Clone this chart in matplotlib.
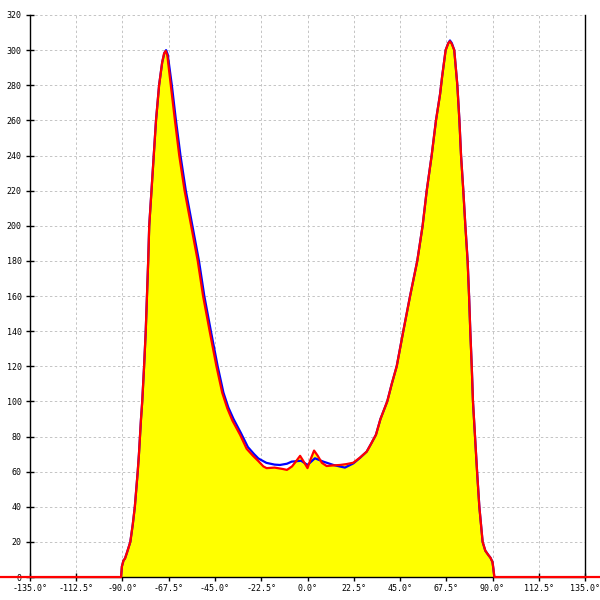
import numpy as np
import matplotlib
matplotlib.use("Agg")
import matplotlib.pyplot as plt

# Courbe rouge (angle en degrés, intensité)
red_angle = [-180, -90.7, -90.3, -89.5, -88.8, -87.8, -86.2, -85.0, -84.0, -83.3,
             -82.6, -82.0, -81.5, -81.0, -80.4, -79.5, -78.7, -78.1, -77.5, -77.0,
             -75.9, -74.8, -73.7, -72.2, -70.7, -69.8, -69.0, -68.2, -66.5, -64.5,
             -62.4, -59.8, -56.6, -53.4, -50.8, -47.6, -44.3, -41.5, -39.0, -36.5,
             -32.8, -29.6, -26.5, -23.9, -21.5, -19.9, -16.0, -12.0, -10.0, -7.5,
             -5.5, -3.6, -2.0, 0.0, 1.5, 3.2, 5.0, 7.0, 9.3, 12.0,
             15.8, 19.0, 22.3, 25.5, 28.8, 31.0, 33.3, 35.5, 38.8, 41.0,
             43.4, 46.6, 49.9, 53.4, 56.0, 58.0, 60.4, 62.5, 64.5, 65.5,
             67.2, 68.5, 69.3, 70.2, 71.4, 72.9, 73.9, 74.7, 75.8, 76.8,
             77.9, 78.6, 79.2, 79.9, 80.5, 81.5, 82.5, 83.6, 84.4, 85.2,
             86.5, 88.0, 89.0, 90.0, 90.4, 90.9, 180]
red_value = [0, 0, 6, 9.5, 10.5, 14, 20, 30, 40, 50,
             60, 70, 80, 90, 100, 120, 140, 160, 180, 200,
             220, 240, 260, 280, 293, 298, 299.5, 297, 280, 260,
             240, 220, 200, 180, 160, 140, 120, 105, 96, 89,
             81, 73, 69, 66, 63, 62, 62.3, 61.5, 61, 63,
             66, 69, 66, 62, 67, 72, 69, 65, 63.2, 63.5,
             63.8, 64.3, 65.1, 68, 71.4, 76, 81, 90, 100, 110,
             120, 140, 160, 180, 200, 220, 240, 260, 275, 285,
             300, 304, 305, 303.5, 300, 280, 260, 240, 220, 200,
             180, 160, 140, 120, 100, 80, 60, 40, 30, 20,
             15, 12.5, 11, 8.5, 5, 0, 0]

# Courbe bleue, quasi superposée
blue_angle = [-90.7, -90.3, -89.5, -88.8, -87.8, -86.2, -85.0, -84.0, -83.3,
              -82.6, -82.0, -81.5, -81.0, -80.4, -79.5, -78.7, -78.1, -77.5, -77.0,
              -75.9, -74.8, -73.7, -72.2, -70.7, -69.6, -68.8, -68.0, -66.0, -64.0,
              -61.8, -59.2, -56.0, -52.8, -50.2, -47.0, -43.7, -40.9, -38.5, -36.0,
              -32.4, -29.0, -26.0, -23.9, -20.0, -16.0, -13.4, -10.0, -7.7, -3.1,
              0.0, 3.6, 7.7, 12.6, 15.5, 18.2, 22.3, 25.5, 28.8, 31.0,
              33.3, 35.5, 38.8, 41.0, 43.4, 46.6, 49.9, 53.4, 56.0, 58.0,
              60.4, 62.5, 64.5, 65.5, 67.2, 68.5, 69.3, 70.2, 71.4, 72.9,
              73.9, 74.7, 75.8, 76.8, 77.9, 78.6, 79.2, 79.9, 80.5, 81.5,
              82.5, 83.6, 84.4, 85.2, 86.5, 88.0, 89.0, 90.0, 90.4, 90.9]
blue_value = [0, 6, 9.5, 10.5, 14, 20, 30, 40, 50,
              60, 70, 80, 90, 100, 120, 140, 160, 180, 200,
              220, 240, 260, 280, 293, 298.5, 300, 297.5, 280, 260,
              240, 220, 200, 180, 160, 140, 120, 105, 96.5, 90,
              82, 74, 70, 67.5, 65, 64, 63.8, 64.5, 65.7, 66.2,
              63.8, 67.6, 65.7, 63.8, 63, 62.3, 64.7, 67.8, 71.4, 76,
              81, 90, 100, 110, 120, 140, 160, 180, 200, 220,
              240, 260, 275, 285, 300, 304, 305.5, 304, 300, 280,
              260, 240, 220, 200, 180, 160, 140, 120, 100, 80,
              60, 40, 30, 20, 15, 12.5, 11, 8.5, 5, 0]

x_ticks = np.arange(-135, 135.1, 22.5)
y_ticks = np.arange(0, 321, 20)

fig = plt.figure(figsize=(6, 6), dpi=100)
ax = fig.add_axes([0.05, 0.0383, 0.925, 0.9367])

ax.fill_between(red_angle, red_value, 0, color='#ffff00', lw=0, zorder=2)
ax.plot(blue_angle, blue_value, color='#0000ff', lw=1.6, zorder=3)
ax.plot(red_angle, red_value, color='#ff0000', lw=1.6, zorder=4, clip_on=False)

ax.set_xlim(-135, 135)
ax.set_ylim(0, 320)
ax.set_xticks(x_ticks)
ax.set_xticklabels(['{:.1f}\u00b0'.format(v) for v in x_ticks])
ax.set_yticks(y_ticks)

ax.grid(color='#c4c4c4', linestyle=(0, (2.5, 2.5)), lw=0.7, zorder=1)
ax.set_axisbelow(True)

ax.spines['top'].set_visible(False)
for s in ['left', 'right', 'bottom']:
    ax.spines[s].set_color('black')
    ax.spines[s].set_linewidth(1)

ax.tick_params(axis='both', direction='inout', length=6, width=1,
               labelsize=6, colors='black')
ax.tick_params(axis='x', pad=2)
ax.tick_params(axis='y', pad=3)
for lab in ax.get_xticklabels() + ax.get_yticklabels():
    lab.set_family('DejaVu Sans Mono')

fig.savefig('out.png', dpi=100)
